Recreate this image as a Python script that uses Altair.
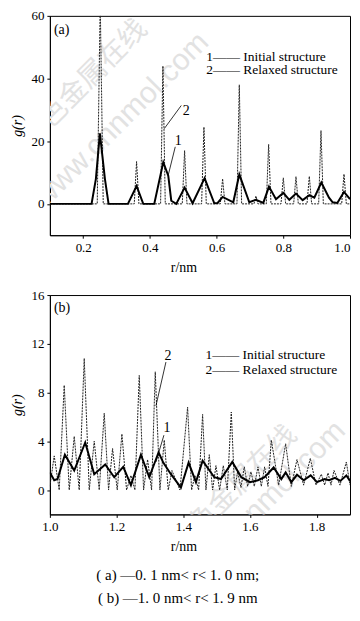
import altair as alt
import pandas as pd

# ---------------- Panel (a): 0.1 nm < r < 1.0 nm ----------------
ra_init = [0.10, 0.225, 0.238, 0.250, 0.265, 0.276, 0.334, 0.360, 0.380,
           0.413, 0.440, 0.455, 0.464, 0.479, 0.504, 0.528, 0.564, 0.593,
           0.603, 0.618, 0.650, 0.668, 0.698, 0.718, 0.740, 0.757, 0.778,
           0.800, 0.818, 0.838, 0.858, 0.878, 0.893, 0.914, 0.937, 0.948,
           0.962, 0.982, 1.000]
ga_init = [0.0, 0.0, 8.0, 22.5, 8.0, 0.0, 0.0, 5.7, 0.0,
           0.0, 13.3, 9.0, 1.0, 0.0, 5.2, 0.2, 8.2, 0.2,
           0.3, 2.2, 0.5, 9.4, 0.5, 1.3, 0.3, 5.5, 1.5,
           3.5, 1.3, 3.3, 1.2, 2.8, 2.0, 6.8, 2.0, 0.5,
           0.3, 3.8, 1.5]

ra_relax = [0.10, 0.242, 0.251, 0.260, 0.353, 0.360, 0.367, 0.432, 0.439, 0.446,
            0.497, 0.504, 0.511, 0.555, 0.562, 0.569, 0.611, 0.618, 0.625,
            0.661, 0.668, 0.675, 0.712, 0.718, 0.724, 0.749, 0.756, 0.763,
            0.793, 0.800, 0.807, 0.831, 0.838, 0.845, 0.871, 0.878, 0.885,
            0.906, 0.913, 0.920, 0.975, 0.982, 0.989, 1.000]
ga_relax = [0.0, 0.0, 64.0, 0.0, 0.0, 13.5, 0.0, 0.0, 44.0, 0.0,
            0.0, 17.0, 0.0, 0.0, 24.5, 0.0, 0.0, 8.0, 0.0,
            0.0, 38.0, 0.0, 0.0, 2.5, 0.0, 0.0, 19.0, 0.0,
            0.0, 8.3, 0.0, 0.0, 8.7, 0.0, 0.0, 8.8, 0.0,
            0.0, 23.4, 0.0, 0.0, 9.5, 0.0, 0.0]

# ---------------- Panel (b): 1.0 nm < r < 1.9 nm ----------------
rb_init = [1.000, 1.013, 1.023, 1.045, 1.073, 1.106, 1.133, 1.166, 1.193,
           1.220, 1.243, 1.273, 1.298, 1.326, 1.340, 1.363, 1.393, 1.416,
           1.438, 1.458, 1.493, 1.513, 1.547, 1.574, 1.600, 1.624, 1.644,
           1.671, 1.694, 1.707, 1.724, 1.741, 1.761, 1.782, 1.801, 1.824,
           1.837, 1.855, 1.871, 1.889, 1.900]
gb_init = [1.45, 0.8, 0.9, 2.9, 1.6, 3.9, 1.3, 2.1, 1.05,
           1.9, 0.4, 2.9, 1.05, 3.1, 2.25, 1.3, 0.2, 2.25,
           0.65, 2.4, 1.05, 0.9, 2.3, 1.05, 0.65, 0.8, 1.05,
           1.85, 0.9, 1.45, 0.65, 1.25, 0.8, 1.2, 0.65, 0.9,
           0.8, 1.0, 0.75, 1.2, 0.75]

rb_relax = [1.000, 1.013, 1.028, 1.043, 1.058, 1.073, 1.088, 1.103, 1.118,
            1.133, 1.148, 1.163, 1.176, 1.188, 1.202, 1.216, 1.230, 1.243,
            1.255, 1.268, 1.281, 1.293, 1.305, 1.316, 1.330, 1.343, 1.355,
            1.366, 1.390, 1.413, 1.425, 1.435, 1.446, 1.458, 1.468, 1.478,
            1.488, 1.498, 1.509, 1.520, 1.532, 1.544, 1.554, 1.563, 1.573,
            1.583, 1.593, 1.603, 1.613, 1.624, 1.634, 1.644, 1.654, 1.664,
            1.686, 1.707, 1.724, 1.741, 1.761, 1.781, 1.798, 1.814, 1.824,
            1.834, 1.843, 1.852, 1.870, 1.889, 1.900]
gb_relax = [0.3, 2.8, 0.0, 8.6, 0.0, 4.4, 0.0, 10.8, 0.0,
            4.0, 0.0, 6.3, 0.0, 3.4, 0.0, 4.6, 0.0, 1.2,
            0.0, 9.4, 0.0, 2.5, 0.0, 9.7, 0.0, 4.1, 0.0,
            1.6, 0.0, 6.8, 0.0, 1.2, 0.0, 6.2, 0.0, 2.9,
            0.0, 2.0, 0.0, 2.0, 0.0, 6.4, 0.0, 1.5, 0.2,
            1.9, 0.3, 1.5, 0.3, 1.9, 0.3, 1.9, 0.3, 4.1,
            0.4, 3.8, 0.3, 2.5, 0.4, 2.6, 0.4, 1.3, 0.4,
            1.4, 0.4, 1.6, 0.4, 2.3, 0.4]

# axis ticks
xa_ticks = [0.2, 0.4, 0.6, 0.8, 1.0]
ya_ticks = [0, 20, 40, 60]
xb_ticks = [1.0, 1.2, 1.4, 1.6, 1.8]
yb_ticks = [0, 4, 8, 12, 16]

legend_lines = ["1—— Initial structure", "2—— Relaxed structure"]
caption = ["( a) —0. 1 nm< r< 1. 0 nm;", "( b) —1. 0 nm< r< 1. 9 nm"]

# annotation (labels with leader lines), in data units
ann_a = {"lab": ["2", "1"], "r": [0.509, 0.485], "g": [29.5, 20.0],
         "r1": [0.494, 0.476], "g1": [31.4, 18.2], "r2": [0.443, 0.455], "g2": [24.0, 9.2]}
ann_b = {"lab": ["2", "1"], "r": [1.354, 1.351], "g": [11.0, 5.1],
         "r1": [1.348, 1.342], "g1": [10.5, 4.5], "r2": [1.318, 1.318], "g2": [6.9, 2.3]}

SERIF = "Liberation Serif"


def panel(r_i, g_i, r_r, g_r, xdom, ydom, xt, yt, tag, tag_pos, leg_pos, ann, wm, flush):
    x_scale = alt.Scale(domain=xdom, nice=False, zero=False)
    y_scale = alt.Scale(domain=ydom, nice=False, zero=False)
    x_enc = alt.X("r:Q", scale=x_scale,
                  axis=alt.Axis(values=xt, format=".1f", title="r/nm", grid=False,
                                titleX=134, titleAlign="center", labelFlush=flush))
    y_enc = alt.Y("g:Q", scale=y_scale,
                  axis=alt.Axis(values=yt, format="d", title="g(r)", grid=False))

    d_init = pd.DataFrame({"r": r_i, "g": g_i})
    d_relax = pd.DataFrame({"r": r_r, "g": g_r})

    relax = alt.Chart(d_relax).mark_line(color="#222", strokeWidth=1, strokeDash=[2, 1],
                                         clip=True).encode(x=x_enc, y=y_enc)
    init = alt.Chart(d_init).mark_line(color="black", strokeWidth=2,
                                       clip=True).encode(x="r:Q", y="g:Q")

    # watermark (clipped to the plot area)
    d_wm = pd.DataFrame({"t": ["有色金属在线", "www.cnnmol.com"],
                         "r": wm[0], "g": wm[1]})
    wm1 = alt.Chart(d_wm.iloc[[0]]).mark_text(angle=315, fontSize=28, color="#e2e2e2",
                                              font="Noto Sans CJK SC", clip=True).encode(
        x="r:Q", y="g:Q", text="t:N")
    wm2 = alt.Chart(d_wm.iloc[[1]]).mark_text(angle=315, fontSize=30, color="#e2e2e2",
                                              font="Liberation Sans", clip=True).encode(
        x="r:Q", y="g:Q", text="t:N")

    d_tag = pd.DataFrame({"t": [tag], "r": [tag_pos[0]], "g": [tag_pos[1]]})
    tag_m = alt.Chart(d_tag).mark_text(align="left", fontSize=14, font=SERIF,
                                       color="black").encode(x="r:Q", y="g:Q", text="t:N")

    d_leg = pd.DataFrame({"t": legend_lines, "r": [leg_pos[0]] * 2, "g": leg_pos[1]})
    leg_m = alt.Chart(d_leg).mark_text(align="left", fontSize=13.5, font=SERIF,
                                       color="black").encode(x="r:Q", y="g:Q", text="t:N")

    d_ann = pd.DataFrame(ann)
    ann_t = alt.Chart(d_ann).mark_text(fontSize=14, font=SERIF, color="black").encode(
        x="r:Q", y="g:Q", text="lab:N")
    ann_l = alt.Chart(d_ann).mark_rule(color="black", strokeWidth=0.8).encode(
        x="r1:Q", y="g1:Q", x2="r2:Q", y2="g2:Q")

    return alt.layer(wm1, wm2, relax, init, ann_l, ann_t, tag_m, leg_m).properties(
        width=301, height=220)


pa = panel(ra_init, ga_init, ra_relax, ga_relax, [0.1, 1.0], [-10, 60], xa_ticks, ya_ticks,
           "(a)", (0.112, 55.5), (0.569, [47.0, 42.6]), ann_a,
           ([0.2015, 0.315], [38.2, 26.8]), True)
pb = panel(rb_init, gb_init, rb_relax, gb_relax, [1.0, 1.9], [-2, 16], xb_ticks, yb_ticks,
           "(b)", (1.012, 14.9), (1.467, [11.1, 9.85]), ann_b,
           ([1.55, 1.625], [0.0, -1.5]), False)

chart = alt.vconcat(pa, pb, spacing=60, bounds="flush").properties(
    title=alt.TitleParams(text=caption, orient="bottom", anchor="middle", fontSize=15,
                          font=SERIF, fontWeight="normal", color="black", lineHeight=23,
                          offset=14, dx=-3),
    padding={"left": 2, "top": 0, "right": 1, "bottom": 0},
    background="white",
).configure_view(stroke="black", strokeWidth=1).configure_axis(
    labelFont=SERIF, titleFont=SERIF, labelFontSize=13, titleFontSize=14,
    labelColor="black", titleColor="black", tickColor="black", domainColor="black",
    tickSize=3, labelPadding=3, titleFontWeight="normal",
).configure_axisY(titlePadding=6, titleFontStyle="italic").configure_axisX(titlePadding=6)

chart.save("out.html", embed_options={"renderer": "svg", "actions": False})
